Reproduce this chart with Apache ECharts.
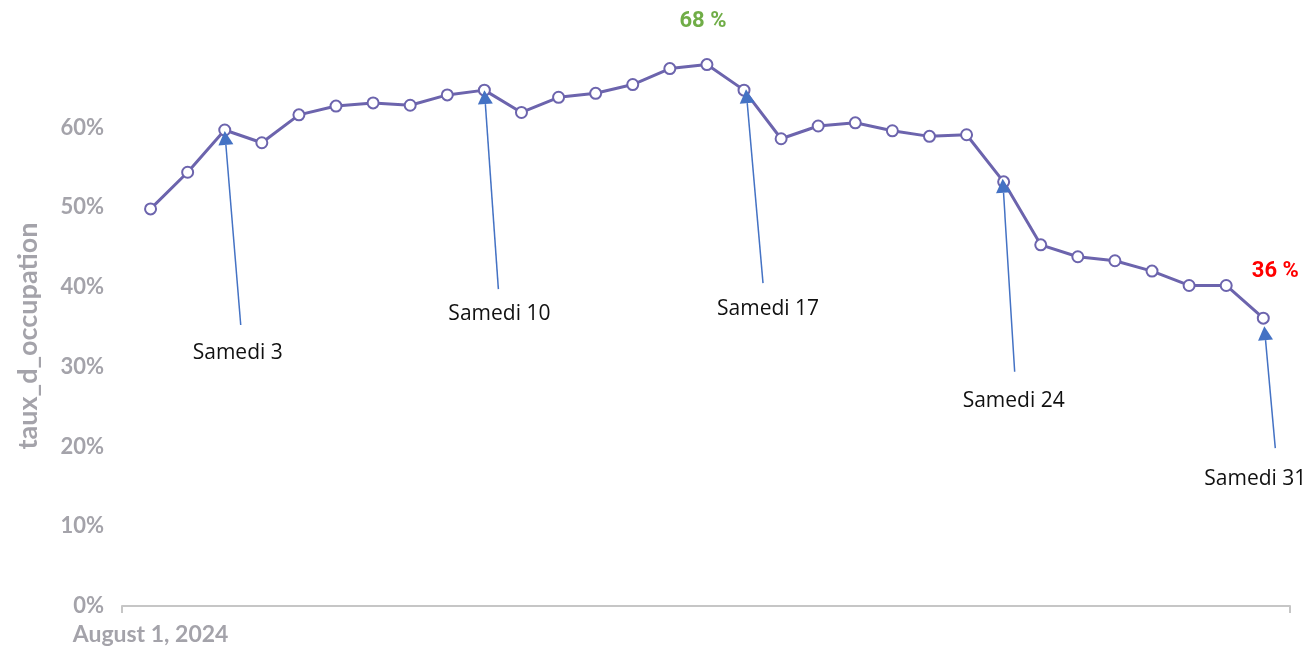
<!DOCTYPE html>
<html lang="fr">

<head>
    <meta charset="UTF-8">
    <meta name="viewport" content="width=device-width, initial-scale=1.0">
    <title>Taux d'occupation - août 2024</title>
    <script src="https://cdn.jsdelivr.net/npm/echarts@6/dist/echarts.min.js"></script>
    <style>
        html, body {
            margin: 0;
            padding: 0;
            background: #fff;
        }

        #main {
            width: 1307px;
            height: 646px;
        }
    </style>
</head>

<body>
    <div id="main"></div>

    <script>
        // jours du mois d'août 2024
        const days = [1, 2, 3, 4, 5, 6, 7, 8, 9, 10, 11, 12, 13, 14, 15, 16,
            17, 18, 19, 20, 21, 22, 23, 24, 25, 26, 27, 28, 29, 30, 31];
        // taux d'occupation (%)
        const occupation = [49.8, 54.4, 59.7, 58.1, 61.6, 62.7, 63.1, 62.8, 64.1, 64.7,
            61.9, 63.8, 64.3, 65.4, 67.4, 67.9, 64.7, 58.6, 60.2, 60.6,
            59.6, 58.9, 59.1, 53.2, 45.3, 43.8, 43.3, 42.0, 40.2, 40.2, 36.1];
        const yTicks = [0, 10, 20, 30, 40, 50, 60];
        const xTickDays = [1];
        const xTickLabels = ['August 1, 2024'];
        // les samedis annotés
        const samedis = [3, 10, 17, 24, 31];

        const X_MIN = 0.23, X_MAX = 31.72;
        const GREY = '#a4a3aa';
        const LINE = '#6c64ad';
        const ARROW = '#4472c4';

        // décalages (px) : pointe de flèche, queue de flèche, centre du texte
        const annotLayout = {
            3: { tip: [0, 1], tail: [16, 195], text: [13, 223] },
            10: { tip: [0, 0], tail: [14, 199], text: [15, 224] },
            17: { tip: [2, -1], tail: [19, 193], text: [24, 219] },
            24: { tip: [-1, -3], tail: [11, 190], text: [10, 219] },
            31: { tip: [1, 8], tail: [12, 130], text: [-8, 161] }
        };

        const myChart = echarts.init(document.getElementById('main'));

        const option = {
            animation: false,
            grid: {
                left: 122,
                right: 17,
                top: 8,
                bottom: 38
            },
            xAxis: {
                type: 'value',
                min: X_MIN,
                max: X_MAX,
                splitLine: { show: false },
                axisLine: {
                    show: true,
                    onZero: false,
                    lineStyle: { color: '#c6c6c6', width: 2 }
                },
                axisTick: {
                    show: true,
                    customValues: [X_MIN, X_MAX],
                    length: 7,
                    lineStyle: { color: '#c6c6c6', width: 2 }
                },
                axisLabel: {
                    customValues: xTickDays,
                    formatter: v => xTickLabels[xTickDays.indexOf(v)] || '',
                    color: GREY,
                    fontFamily: 'Lato',
                    fontWeight: 'bold',
                    fontSize: 23,
                    margin: 17
                }
            },
            yAxis: {
                type: 'value',
                min: 0,
                max: 75,
                interval: 10,
                splitLine: { show: false },
                axisLine: { show: false },
                axisTick: { show: false },
                axisLabel: {
                    customValues: yTicks,
                    formatter: '{value}%',
                    color: GREY,
                    fontFamily: 'Lato',
                    fontWeight: 'bold',
                    fontSize: 22,
                    margin: 18
                }
            },
            series: [{
                name: 'taux_d_occupation',
                type: 'line',
                data: days.map((d, i) => [d, occupation[i]]),
                symbol: 'emptyCircle',
                symbolSize: 11,
                lineStyle: { color: LINE, width: 3 },
                itemStyle: { color: LINE, borderColor: LINE, borderWidth: 3 },
                z: 3
            }]
        };

        myChart.setOption(option);

        // annotations : flèches + textes, placées à partir des points de données
        function toPx(day) {
            return myChart.convertToPixel({ gridIndex: 0 }, [day, occupation[days.indexOf(day)]]);
        }

        const graphics = [];

        // titre d'axe vertical
        graphics.push({
            type: 'text',
            x: 28,
            y: 336,
            rotation: Math.PI / 2,
            style: {
                text: 'taux_d_occupation',
                fill: GREY,
                font: 'bold 27px Lato',
                align: 'center',
                verticalAlign: 'middle'
            }
        });

        samedis.forEach(day => {
            const p = toPx(day);
            const lay = annotLayout[day];
            const tip = [p[0] + lay.tip[0], p[1] + lay.tip[1]];
            const tail = [p[0] + lay.tail[0], p[1] + lay.tail[1]];
            const dx = tip[0] - tail[0], dy = tip[1] - tail[1];
            const len = Math.sqrt(dx * dx + dy * dy);
            const ux = dx / len, uy = dy / len;
            const headLen = 14, headHalf = 7.5;
            const base = [tip[0] - ux * headLen, tip[1] - uy * headLen];
            graphics.push({
                type: 'line',
                shape: { x1: tail[0], y1: tail[1], x2: base[0], y2: base[1] },
                style: { stroke: ARROW, lineWidth: 1.5 },
                z: 10
            });
            graphics.push({
                type: 'polygon',
                shape: {
                    points: [
                        tip,
                        [base[0] - uy * headHalf, base[1] + ux * headHalf],
                        [base[0] + uy * headHalf, base[1] - ux * headHalf]
                    ]
                },
                style: { fill: ARROW },
                z: 10
            });
            graphics.push({
                type: 'text',
                x: p[0] + lay.text[0],
                y: p[1] + lay.text[1],
                style: {
                    text: 'Samedi ' + day,
                    fill: '#111',
                    font: '21px "Open Sans"',
                    align: 'center',
                    verticalAlign: 'middle'
                },
                z: 10
            });
        });

        // maximum et minimum
        const maxVal = Math.max(...occupation);
        const minVal = Math.min(...occupation);
        const pMax = toPx(days[occupation.indexOf(maxVal)]);
        const pMin = toPx(days[occupation.indexOf(minVal)]);
        graphics.push({
            type: 'text',
            x: pMax[0] - 4,
            y: pMax[1] - 43,
            style: {
                text: Math.round(maxVal) + ' %',
                fill: '#70ad47',
                font: 'bold 22px Roboto',
                align: 'center',
                verticalAlign: 'middle'
            }
        });
        graphics.push({
            type: 'text',
            x: pMin[0] + 12,
            y: pMin[1] - 47,
            style: {
                text: Math.round(minVal) + ' %',
                fill: '#ff0000',
                font: 'bold 22px Roboto',
                align: 'center',
                verticalAlign: 'middle'
            }
        });

        myChart.setOption({ graphic: graphics });
    </script>
</body>

</html>
